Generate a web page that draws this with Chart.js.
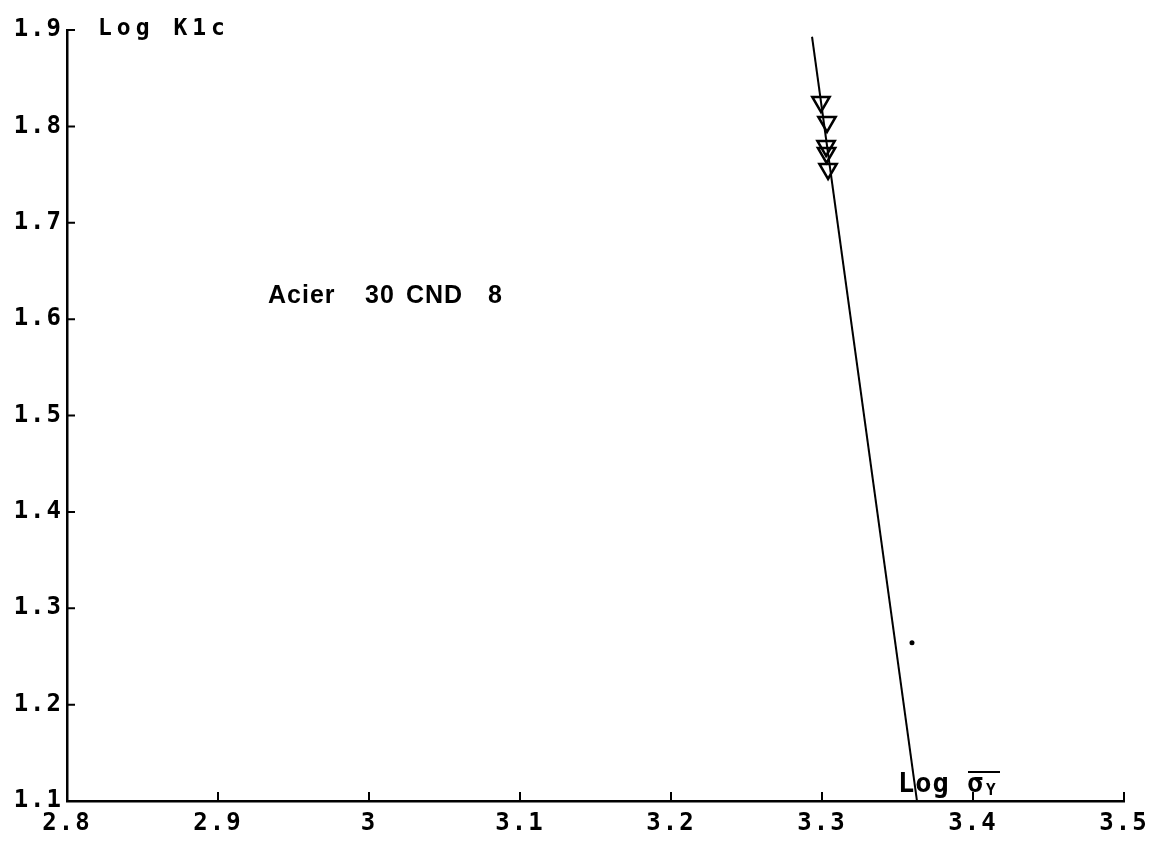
<!DOCTYPE html>
<html><head><meta charset="utf-8">
<script src="https://cdn.jsdelivr.net/npm/chart.js@4.4.1/dist/chart.umd.min.js"></script>
<style>html,body{margin:0;padding:0;background:#fff;} #wrap{width:1157px;height:841px;}</style>
</head><body><div id="wrap"><canvas id="c" width="1157" height="841"></canvas></div>
<script>
// ---- data ----
const xTickValues = [2.8, 2.9, 3.0, 3.1, 3.2, 3.3, 3.4, 3.5];
const yTickValues = [1.1, 1.2, 1.3, 1.4, 1.5, 1.6, 1.7, 1.8, 1.9];
const specimenLogSigma = [3.2993, 3.3033, 3.3027, 3.3030, 3.3040];
const specimenLogK1c   = [1.8253, 1.8046, 1.7797, 1.7724, 1.7558];
const fitLogSigma = [3.2934, 3.3629];
const fitLogK1c   = [1.893, 1.1];
const strayLogSigma = [3.3596];
const strayLogK1c   = [1.2641];
const yAxisTitle = 'Log K1c';
const xAxisTitle = 'Log σ';
const xAxisSub = 'Y';
const materialLabel = ['Acier', '30', 'CND', '8'];

const pts = (xs, ys) => xs.map((x, i) => ({x: x, y: ys[i]}));
const MONO = 'DejaVu Sans Mono';

const inwardTicks = {
  id: 'inwardTicks',
  beforeDraw(chart) { chart.ctx.letterSpacing = '2px'; },
  afterDraw(chart) {
    const ctx = chart.ctx, xs = chart.scales.x, ys = chart.scales.y;
    const a = chart.chartArea;
    ctx.save();
    ctx.letterSpacing = '0px';
    ctx.strokeStyle = '#000';
    ctx.lineWidth = 2;
    ctx.beginPath();
    xTickValues.slice(1).forEach(v => {
      const px = xs.getPixelForValue(v);
      ctx.moveTo(px, a.bottom); ctx.lineTo(px, a.bottom - 9);
    });
    yTickValues.slice(1).forEach(v => {
      const py = ys.getPixelForValue(v);
      ctx.moveTo(a.left, py); ctx.lineTo(a.left + 8, py);
    });
    ctx.stroke();

    ctx.fillStyle = '#000';
    ctx.textBaseline = 'alphabetic';
    ctx.textAlign = 'left';
    // y axis title
    ctx.font = 'bold 23px "' + MONO + '"';
    ctx.letterSpacing = '5px';
    ctx.fillText(yAxisTitle, a.left + 31, a.top + 5);
    // x axis title
    ctx.font = 'bold 27px "' + MONO + '"';
    ctx.letterSpacing = '1px';
    ctx.fillText(xAxisTitle, 898, a.bottom - 9);
    ctx.font = 'bold 16px "' + MONO + '"';
    ctx.letterSpacing = '0px';
    ctx.fillText(xAxisSub, 986, a.bottom - 6);
    ctx.lineWidth = 2;
    ctx.beginPath(); ctx.moveTo(968, a.bottom - 29); ctx.lineTo(1000, a.bottom - 29); ctx.stroke();
    // material label
    ctx.font = 'bold 25px "Liberation Sans"';
    ctx.letterSpacing = '1px';
    const lx = [268, 365, 406, 488];
    materialLabel.forEach((t, i) => ctx.fillText(t, lx[i], 303));
    ctx.restore();
  }
};

new Chart(document.getElementById('c'), {
  type: 'scatter',
  data: {
    datasets: [
      { data: pts(fitLogSigma, fitLogK1c), showLine: true, borderColor: '#000', borderWidth: 2,
        pointRadius: 0, fill: false, tension: 0 },
      { data: pts(specimenLogSigma, specimenLogK1c), pointStyle: 'triangle', rotation: 180,
        radius: 10, borderWidth: 2.5, borderColor: '#000', backgroundColor: 'rgba(0,0,0,0)' },
      { data: pts(strayLogSigma, strayLogK1c), pointStyle: 'circle', radius: 2.5,
        borderWidth: 0, backgroundColor: '#000' }
    ]
  },
  options: {
    responsive: false, animation: false, devicePixelRatio: 1,
    layout: { padding: { top: 30, right: 33, left: 0, bottom: 0 } },
    plugins: { legend: { display: false }, tooltip: { enabled: false } },
    scales: {
      x: {
        type: 'linear', min: 2.8, max: 3.5,
        afterBuildTicks: s => { s.ticks = xTickValues.map(v => ({value: v})); },
        afterFit: s => { s.height = 40; },
        grid: { display: false },
        border: { display: true, color: '#000', width: 2.5 },
        ticks: { color: '#000', padding: 0, maxRotation: 0, autoSkip: false,
          font: { family: MONO, size: 24, weight: 'bold' },
          callback: v => (Math.abs(v - 3) < 1e-9 ? '3' : v.toFixed(1)) }
      },
      y: {
        type: 'linear', min: 1.1, max: 1.9,
        afterBuildTicks: s => { s.ticks = yTickValues.map(v => ({value: v})); },
        afterFit: s => { s.width = 67; },
        grid: { display: false },
        border: { display: true, color: '#000', width: 2.5 },
        ticks: { color: '#000', padding: -4, autoSkip: false,
          font: { family: MONO, size: 24, weight: 'bold' },
          callback: v => v.toFixed(1) }
      }
    }
  },
  plugins: [inwardTicks]
});
</script></body></html>
